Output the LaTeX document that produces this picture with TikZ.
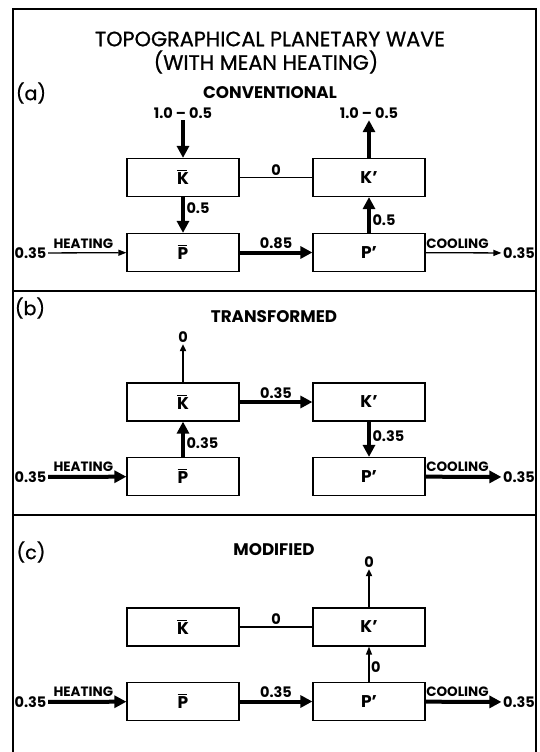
\documentclass[tikz,border=0pt]{standalone}
\usepackage{fontspec}
\setmainfont{Poppins}
\newfontfamily\mediumfont{Poppins}[FakeBold=0.9]
\usetikzlibrary{arrows.meta}
\newcommand{\barred}[1]{\setbox0\hbox{#1}\rlap{\raisebox{\dimexpr\ht0+1.6pt\relax}{\rule{0.85\wd0}{1.4pt}}}\box0}

\tikzset{
	frame/.style={line width=1.5pt},
	box/.style={draw, line width=1.2pt, minimum width=112pt, minimum height=38pt, inner sep=0pt, font=\fontsize{17}{17}\selectfont\bfseries},
	bigtitle/.style={font=\fontsize{20.8}{21}\selectfont\mediumfont, inner sep=0pt},
	paneltag/.style={font=\fontsize{19}{19}\selectfont\mediumfont, inner sep=0pt},
	heading/.style={font=\fontsize{16.8}{17}\selectfont\bfseries, inner sep=0pt},
	val/.style={font=\fontsize{14.5}{15}\selectfont\bfseries, inner sep=1.5pt},
	tag/.style={font=\fontsize{13.5}{14}\selectfont\bfseries, inner sep=1.5pt, above=2pt},
	fatflow/.style={line width=4pt, -{Triangle[length=12pt,width=12pt]}},
	flow/.style={line width=1.3pt, -{Triangle[length=8pt,width=6pt]}},
	midflow/.style={line width=2pt, -{Triangle[length=7pt,width=6pt]}},
	link/.style={line width=1.2pt},
}

\begin{document}
\begin{tikzpicture}[x=1pt,y=-1pt]
	%%%%% FRAME %%%%%
	\useasboundingbox (0,0) rectangle (540,752);
	\draw[frame] (13,752) -- (13,9) -- (536,9) -- (536,752);
	\draw[frame] (13,291) -- (536,291);
	\draw[frame] (13,515) -- (536,515);
	
	\node[bigtitle] (title1) at (270,39) {TOPOGRAPHICAL PLANETARY WAVE};
	\node[bigtitle] (title2) at (266,62) {(WITH MEAN HEATING)};
	
	%%%%% (a) CONVENTIONAL %%%%%
	\node[paneltag] (taga) at (31,93) {(a)};
	\node[heading] (heada) at (270,93) {CONVENTIONAL};
	
	\node[box] (Kma) at (183,177.5) {\barred{K}};
	\node[box] (Kpa) at (369,177.5) {K'};
	\node[box] (Pma) at (183,252.5) {\barred{P}};
	\node[box] (Ppa) at (369,252.5) {P'};
	
	\node[val] (srca) at (183,113) {1.0 -- 0.5};
	\node[val] (dsta) at (369,113) {1.0 -- 0.5};
	\node[val] (ina) at (30.5,253) {0.35};
	\node[val] (outa) at (519,253) {0.35};
	
	\draw[fatflow] (srca) -- (Kma);
	\draw[link] (Kma) -- node[val, above] {0} (Kpa);
	\draw[fatflow] (Kma) -- node[val, right, pos=0.3] {0.5} (Pma);
	\draw[fatflow] (Ppa) -- node[val, right, pos=0.35] {0.5} (Kpa);
	\draw[fatflow] (Kpa) -- (dsta);
	\draw[flow] (ina) -- node[tag, pos=0.45] {HEATING} (Pma);
	\draw[fatflow] (Pma) -- node[val, above] {0.85} (Ppa);
	\draw[flow] (Ppa) -- node[tag, pos=0.42] {COOLING} (outa);
	
	%%%%% (b) TRANSFORMED %%%%%
	\node[paneltag] (tagb) at (30,308) {(b)};
	\node[heading] (headb) at (274,317) {TRANSFORMED};
	
	\node[box] (Kmb) at (183,402) {\barred{K}};
	\node[box] (Kpb) at (369,402) {K'};
	\node[box] (Pmb) at (183,476.5) {\barred{P}};
	\node[box] (Ppb) at (369,476.5) {P'};
	
	\node[val] (dstb) at (183,337) {0};
	\node[val] (inb) at (30.5,477) {0.35};
	\node[val] (outb) at (519,477) {0.35};
	
	\draw[midflow] (Kmb) -- (dstb);
	\draw[fatflow] (Kmb) -- node[val, above] {0.35} (Kpb);
	\draw[fatflow] (Pmb) -- node[val, right, pos=0.4] {0.35} (Kmb);
	\draw[fatflow] (Kpb) -- node[val, right, pos=0.4] {0.35} (Ppb);
	\draw[fatflow] (inb) -- node[tag, pos=0.45] {HEATING} (Pmb);
	\draw[fatflow] (Ppb) -- node[tag, pos=0.42] {COOLING} (outb);
	
	%%%%% (c) MODIFIED %%%%%
	\node[paneltag] (tagc) at (31,552) {(c)};
	\node[heading] (headc) at (274,550) {MODIFIED};
	
	\node[box] (Kmc) at (183,627) {\barred{K}};
	\node[box] (Kpc) at (369,627) {K'};
	\node[box] (Pmc) at (183,701.5) {\barred{P}};
	\node[box] (Ppc) at (369,701.5) {P'};
	
	\node[val] (dstc) at (369,562) {0};
	\node[val] (inc) at (30.5,702) {0.35};
	\node[val] (outc) at (519,702) {0.35};
	
	\draw[link] (Kmc) -- node[val, above] {0} (Kpc);
	\draw[midflow] (Kpc) -- (dstc);
	\draw[flow] (Ppc) -- node[val, right, pos=0.42] {0} (Kpc);
	\draw[fatflow] (inc) -- node[tag, pos=0.45] {HEATING} (Pmc);
	\draw[fatflow] (Pmc) -- node[val, above] {0.35} (Ppc);
	\draw[fatflow] (Ppc) -- node[tag, pos=0.42] {COOLING} (outc);
\end{tikzpicture}
\end{document}
